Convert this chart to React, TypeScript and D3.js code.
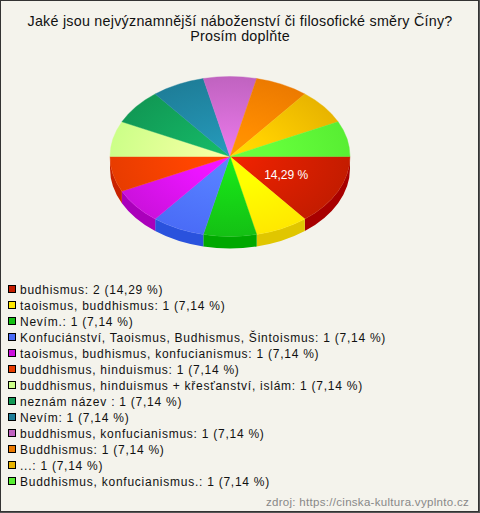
import React from "react";
import * as d3 from "d3";

const labels: string[] = [
  "budhismus",
  "taoismus, buddhismus",
  "Nevím.",
  "Konfuciánství, Taoismus, Budhismus, Šintoismus",
  "taoismus, budhismus, konfucianismus",
  "buddhismus, hinduismus",
  "buddhismus, hinduismus + křesťanství, islám",
  "neznám název ",
  "Nevím",
  "buddhismus, konfucianismus",
  "Buddhismus",
  "...",
  "Buddhismus, konfucianismus.",
];
const counts: number[] = [2, 1, 1, 1, 1, 1, 1, 1, 1, 1, 1, 1, 1];
const colors: string[] = [
  "#c41c00", "#ffe800", "#14c014", "#4a6cf7", "#cc11dd", "#e83c00", "#ccff88",
  "#119955", "#1e7e99", "#c063c0", "#ec7a00", "#e8b400", "#58ee33",
];
const sideColors: string[] = [
  "#a80000", "#e0c600", "#00a800", "#2a52dd", "#aa00bb", "#c82200", "#aadd66",
  "#007744", "#0e5e77", "#a04aa0", "#c85a00", "#c89400", "#3acc18",
];
const title1 = "Jaké jsou nejvýznamnější náboženství či filosofické směry Číny?";
const title2 = "Prosím doplňte";
const source = "zdroj: https://cinska-kultura.vyplnto.cz";

const W = 480, H = 513;
const cx = 230, cy = 156.5, rx = 120, ry = 80, depth = 12;
const FONT = "'Liberation Sans', Arial, sans-serif";

const total = d3.sum(counts);
const fmt = (v: number) => (v * 100).toFixed(2).replace(".", ",");

function pt(t: number, dy = 0): [number, number] {
  return [cx + rx * Math.cos(t), cy + ry * Math.sin(t) + dy];
}

export default function App() {
  const pie = d3.pie<number>().sort(null).startAngle(Math.PI / 2).endAngle(Math.PI / 2 + 2 * Math.PI);
  const arcs = pie(counts).map((a, i) => ({
    i,
    t0: a.startAngle - Math.PI / 2,
    t1: a.endAngle - Math.PI / 2,
    value: a.value,
  }));

  const legendY = d3.scaleLinear().domain([0, 1]).range([289, 305]);

  return (
    <svg width={W} height={H} style={{ position: "absolute", left: 0, top: 0 }} fontFamily={FONT}>
      <defs>
        {arcs.map((a) => {
          const c = d3.color(colors[a.i])!;
          return (
            <radialGradient
              key={a.i}
              id={`g${a.i}`}
              gradientUnits="userSpaceOnUse"
              cx={cx}
              cy={cy}
              r={rx}
              gradientTransform={`translate(${cx},${cy}) scale(1,${ry / rx}) translate(${-cx},${-cy})`}
            >
              <stop offset="0" stopColor={c.brighter(0.6).formatHex()} />
              <stop offset="0.35" stopColor={c.brighter(0.4).formatHex()} />
              <stop offset="1" stopColor={colors[a.i]} />
            </radialGradient>
          );
        })}
      </defs>
      <rect x={0} y={0} width={W} height={H} fill="#f4f3ec" />
      <rect x={0.5} y={0.5} width={W - 2} height={H - 2} fill="none" stroke="#333" strokeWidth={1} />
      <line x1={W - 0.5} y1={0} x2={W - 0.5} y2={H} stroke="#555" />
      <line x1={0} y1={H - 0.5} x2={W} y2={H - 0.5} stroke="#555" />

      <text x={240} y={25.5} textAnchor="middle" fontSize={14.3} letterSpacing={0.25} fill="#111">{title1}</text>
      <text x={240} y={41} textAnchor="middle" fontSize={14.3} letterSpacing={0.25} fill="#111">{title2}</text>

      {/* sides */}
      {arcs.map((a) => {
        const ta = Math.max(a.t0, 0);
        const tb = Math.min(a.t1, Math.PI);
        if (tb <= ta) return null;
        const p0 = pt(ta), p1 = pt(tb), q1 = pt(tb, depth), q0 = pt(ta, depth);
        const d = `M${p0[0]},${p0[1]} A${rx},${ry} 0 0 1 ${p1[0]},${p1[1]} L${q1[0]},${q1[1]} A${rx},${ry} 0 0 0 ${q0[0]},${q0[1]} Z`;
        return <path key={`s${a.i}`} d={d} fill={sideColors[a.i]} />;
      })}

      {/* tops */}
      {arcs.map((a) => {
        const p0 = pt(a.t0), p1 = pt(a.t1);
        const large = a.t1 - a.t0 > Math.PI ? 1 : 0;
        const d = `M${cx},${cy} L${p0[0]},${p0[1]} A${rx},${ry} 0 ${large} 1 ${p1[0]},${p1[1]} Z`;
        return <path key={`t${a.i}`} d={d} fill={`url(#g${a.i})`} stroke={`url(#g${a.i})`} strokeWidth={0.4} />;
      })}

      {arcs.filter((a) => a.value / total > 0.1).map((a) => {
        const tm = (a.t0 + a.t1) / 2;
        const x = cx + rx * 0.52 * Math.cos(tm);
        const y = cy + ry * 0.52 * Math.sin(tm) + 4;
        return (
          <text key={`l${a.i}`} x={x} y={y} textAnchor="middle" fontSize={12} fill="#fff">
            {fmt(a.value / total)} %
          </text>
        );
      })}

      {labels.map((l, i) => {
        const y = legendY(i);
        return (
          <g key={`lg${i}`}>
            <rect x={8.5} y={y - 3.5} width={7} height={7} fill={colors[i]} stroke="#000" strokeWidth={1} />
            <text x={20} y={y + 4.5} fontSize={12} letterSpacing={0.75} fill="#111">
              {`${l}: ${counts[i]} (${fmt(counts[i] / total)} %)`}
            </text>
          </g>
        );
      })}

      <text x={469} y={506} textAnchor="end" fontSize={11.5} letterSpacing={0.3} fill="#888">{source}</text>
    </svg>
  );
}
